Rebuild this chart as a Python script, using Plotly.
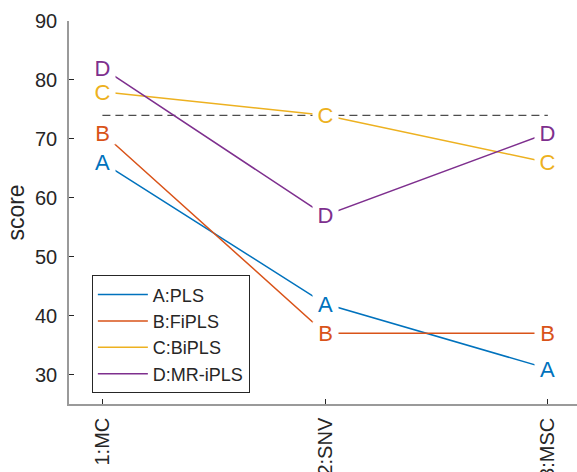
import plotly.graph_objects as go

# Preprocessing methods on the x axis
methods = ["1:MC", "2:SNV", "3:MSC"]
method_pos = [1, 2, 3]

# Scores per regression model
series_names = ["A:PLS", "B:FiPLS", "C:BiPLS", "D:MR-iPLS"]
series_letters = ["A", "B", "C", "D"]
score_pls = [66, 42, 31]
score_fipls = [71, 37, 37]
score_bipls = [78, 74, 66]
score_mripls = [82, 57, 71]
reference_score = 74

y_ticks = [30, 40, 50, 60, 70, 80, 90]

colors = ["#0072BD", "#D95319", "#EDB120", "#7E2F8E"]
series_values = [score_pls, score_fipls, score_bipls, score_mripls]

FONT = "Liberation Sans, Arial, sans-serif"
TEXT_COLOR = "#262626"

fig = go.Figure()

# reference level across all methods
fig.add_trace(go.Scatter(
    x=[method_pos[0], method_pos[-1]],
    y=[reference_score, reference_score],
    mode="lines",
    line=dict(color="#4d4d4d", width=1.2, dash="8px,5px"),
    showlegend=False,
    hoverinfo="skip",
))

for name, vals, col in zip(series_names, series_values, colors):
    fig.add_trace(go.Scatter(
        x=method_pos, y=vals, mode="lines", name=name,
        line=dict(color=col, width=1.5),
    ))

# letter markers with a white backing so lines stop short of them
annotations = []
for letter, vals, col in zip(series_letters, series_values, colors):
    for xv, yv in zip(method_pos, vals):
        annotations.append(dict(
            x=xv, y=yv, xref="x", yref="y", text=letter, showarrow=False,
            font=dict(family=FONT, size=22, color=col),
            bgcolor="white", borderpad=0, width=25, height=22,
            xanchor="center", yanchor="middle",
        ))

fig.update_layout(
    width=577, height=472,
    margin=dict(l=69, r=0, t=21, b=68),
    paper_bgcolor="white", plot_bgcolor="white",
    font=dict(family=FONT, size=20, color=TEXT_COLOR),
    annotations=annotations,
    showlegend=True,
    legend=dict(
        x=0.045, y=0.336, xanchor="left", yanchor="top",
        bgcolor="white", bordercolor="#262626", borderwidth=1,
        font=dict(family=FONT, size=18, color=TEXT_COLOR),
        tracegroupgap=0, itemwidth=50,
    ),
    xaxis=dict(
        range=[0.85, 3.131], tickvals=method_pos, ticktext=methods,
        tickangle=-90, ticks="inside", ticklen=5, tickcolor=TEXT_COLOR,
        showline=True, linecolor="#9a9a9a", linewidth=1.5,
        showgrid=False, zeroline=False, automargin=False,
        ticklabelstandoff=4,
        tickfont=dict(family=FONT, size=20, color=TEXT_COLOR),
    ),
    yaxis=dict(
        range=[25, 90], tickvals=y_ticks,
        ticks="inside", ticklen=5, tickcolor=TEXT_COLOR,
        showline=True, linecolor="#9a9a9a", linewidth=1.5,
        showgrid=False, zeroline=False, automargin=False,
        ticklabelstandoff=6,
        tickfont=dict(family=FONT, size=20, color=TEXT_COLOR),
        title=dict(text="score", font=dict(family=FONT, size=23, color=TEXT_COLOR), standoff=4),
    ),
)

fig.write_html("out.html")
